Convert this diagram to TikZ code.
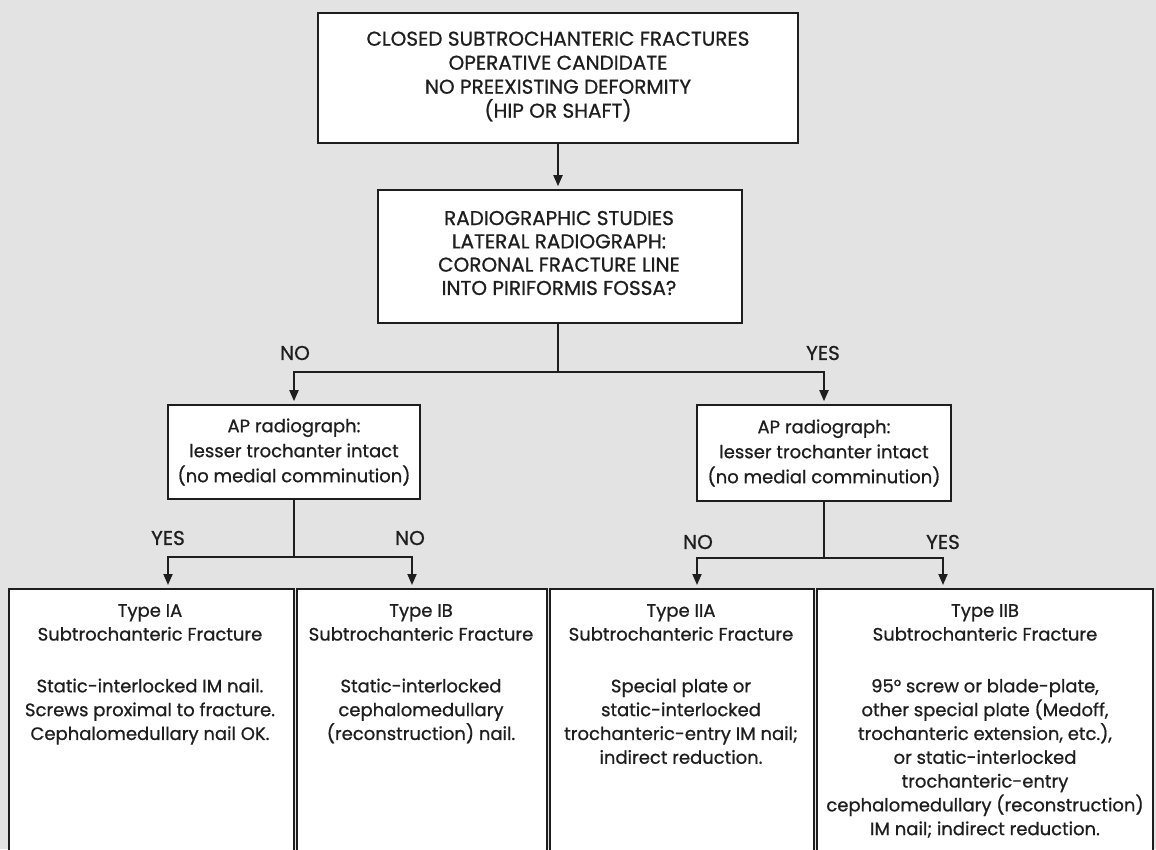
\documentclass[tikz,border=0pt]{standalone}
\usepackage{fontspec}
\setmainfont{Poppins}[FakeBold=0.8]
\usetikzlibrary{arrows.meta,calc}
\definecolor{ink}{HTML}{1E1E1E}
\definecolor{paper}{HTML}{E3E3E3}
\begin{document}
\begin{tikzpicture}[x=1pt,y=-1pt,
  box/.style={draw=ink,line width=1.6pt,fill=white,inner sep=0pt,rectangle},
  capstext/.style={text=ink,align=center,inner sep=0pt,font=\fontsize{20}{24}\selectfont},
  txt/.style={text=ink,align=center,inner sep=0pt,font=\fontsize{18}{23.8}\selectfont},
  link/.style={draw=ink,line width=1.8pt},
  arrow/.style={link,-{Triangle[width=9pt,length=11pt]},shorten >=3pt},
  branch/.style={text=ink,inner sep=0pt,font=\fontsize{20}{22}\selectfont}]
% page
\fill[paper] (0,0) rectangle (1156,849);
\useasboundingbox (0,0) rectangle (1156,849);
\clip (0,0) rectangle (1156,849);

% decision boxes
\node[box,minimum width=480pt,minimum height=130pt] (start) at (558,78) {};
\node[capstext] (starttext) at (558,76.5) {CLOSED SUBTROCHANTERIC FRACTURES\\OPERATIVE CANDIDATE\\NO PREEXISTING DEFORMITY\\(HIP OR SHAFT)};

\node[box,minimum width=364pt,minimum height=133pt] (radio) at (560,256.5) {};
\node[capstext,font=\fontsize{20}{23.3}\selectfont] (radiotext) at (559,253) {RADIOGRAPHIC STUDIES\\LATERAL RADIOGRAPH:\\CORONAL FRACTURE LINE\\INTO PIRIFORMIS FOSSA?};

\node[box,minimum width=252pt,minimum height=94pt] (apl) at (294,452) {};
\node[txt,font=\fontsize{18}{25}\selectfont] (apltext) at (294,452) {AP radiograph:\\lesser trochanter intact\\(no medial comminution)};

\node[box,minimum width=254pt,minimum height=96pt] (apr) at (824,453) {};
\node[txt,font=\fontsize{18}{25}\selectfont] (aprtext) at (824,453) {AP radiograph:\\lesser trochanter intact\\(no medial comminution)};

% fracture type boxes (running off the foot of the page)
\node[box,anchor=north west,minimum width=285pt,minimum height=300pt] (ia) at (8,588) {};
\node[box,anchor=north west,minimum width=250pt,minimum height=300pt] (ib) at (296,588) {};
\node[box,anchor=north west,minimum width=264pt,minimum height=300pt] (iia) at (549,588) {};
\node[box,anchor=north west,minimum width=336pt,minimum height=300pt] (iib) at (816,588) {};

\node[txt,anchor=north] (iatext) at (150,604) {Type IA\\Subtrochanteric Fracture\\[28pt]Static-interlocked IM nail.\\Screws proximal to fracture.\\Cephalomedullary nail OK.};
\node[txt,anchor=north] (ibtext) at (421,604) {Type IB\\Subtrochanteric Fracture\\[28pt]Static-interlocked\\cephalomedullary\\(reconstruction) nail.};
\node[txt,anchor=north] (iiatext) at (681,604) {Type IIA\\Subtrochanteric Fracture\\[28pt]Special plate or\\static-interlocked\\trochanteric-entry IM nail;\\indirect reduction.};
\node[txt,anchor=north] (iibtext) at (985,604) {Type IIB\\Subtrochanteric Fracture\\[28pt]95° screw or blade-plate,\\other special plate (Medoff,\\trochanteric extension, etc.),\\or static-interlocked\\trochanteric-entry\\cephalomedullary (reconstruction)\\IM nail; indirect reduction.};

% branch points and arrow targets
\coordinate (split) at (558,372);
\coordinate (splitl) at (294,557);
\coordinate (splitr) at (824,558);
\coordinate (iain) at (168,588);
\coordinate (ibin) at (412,588);
\coordinate (iiain) at (697,588);
\coordinate (iibin) at (943,588);

% connectors
\draw[arrow] (start.south) -- (start.south |- radio.north);
\draw[link] (radio.south -| split) -- (split);
\draw[arrow] (split) -| (apl.north);
\draw[arrow] (split) -| (apr.north);

\draw[link] (apl.south) -- (splitl);
\draw[arrow] (splitl) -| (iain);
\draw[arrow] (splitl) -| (ibin);

\draw[link] (apr.south) -- (splitr);
\draw[arrow] (splitr) -| (iiain);
\draw[arrow] (splitr) -| (iibin);

% branch labels
\node[branch] (lno) at (295,353) {NO};
\node[branch] (ryes) at (823,353) {YES};
\node[branch] (ayes) at (168,538) {YES};
\node[branch] (ano) at (410,538) {NO};
\node[branch] (bno) at (698,542) {NO};
\node[branch] (byes) at (943,542) {YES};
\end{tikzpicture}
\end{document}
